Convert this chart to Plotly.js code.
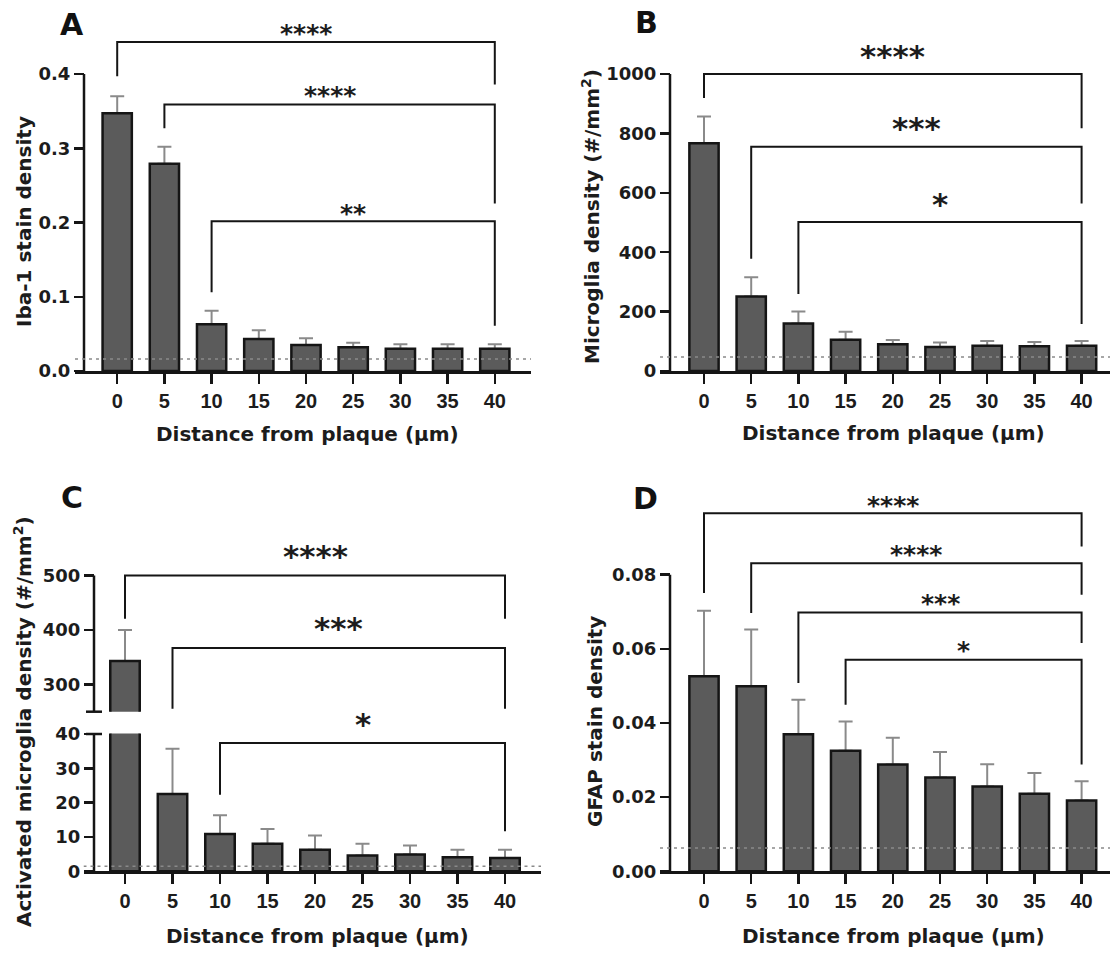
<!DOCTYPE html>
<html>
<head>
<meta charset="utf-8">
<script src="https://cdn.plot.ly/plotly-3.0.1.min.js"></script>
<style>
html,body{margin:0;padding:0;background:#ffffff;}
#chart{width:1110px;height:956px;}
</style>
</head>
<body>
<div id="chart"></div>
<script>
// ---------------- data ----------------
const distances = [0, 5, 10, 15, 20, 25, 30, 35, 40];

const ibaMean = [0.347, 0.279, 0.063, 0.043, 0.035, 0.032, 0.030, 0.030, 0.030];
const ibaSem  = [0.023, 0.023, 0.018, 0.012, 0.009, 0.006, 0.006, 0.006, 0.006];
const ibaBaseline = 0.016;

const microMean = [767, 251, 160, 105, 90, 81, 85, 83, 85];
const microSem  = [90, 65, 40, 27, 14, 15, 16, 15, 16];
const microBaseline = 47;

const actMean = [343, 22.5, 10.9, 8.0, 6.3, 4.6, 4.9, 4.1, 3.9];
const actSem  = [57, 13.2, 5.4, 4.3, 4.1, 3.4, 2.6, 2.2, 2.4];
const actBaseline = 1.5;

const gfapMean = [0.0526, 0.0499, 0.0370, 0.0325, 0.0288, 0.0253, 0.0229, 0.0209, 0.0191];
const gfapSem  = [0.0177, 0.0153, 0.0093, 0.0079, 0.0072, 0.0069, 0.0060, 0.0056, 0.0052];
const gfapBaseline = 0.0063;

// significance comparisons: [from distance, to distance, label]
const ibaSig   = [[0, 40, '****'], [5, 40, '****'], [10, 40, '**']];
const microSig = [[0, 40, '****'], [5, 40, '***'], [10, 40, '*']];
const actSig   = [[0, 40, '****'], [5, 40, '***'], [10, 40, '*']];
const gfapSig  = [[0, 40, '****'], [5, 40, '****'], [10, 40, '***'], [15, 40, '*']];

// tick labels
const ibaTicks = [0, 0.1, 0.2, 0.3, 0.4];
const ibaTickText = ['0.0', '0.1', '0.2', '0.3', '0.4'];
const microTicks = [0, 200, 400, 600, 800, 1000];
const actLowTicks = [0, 10, 20, 30, 40];
const actHighTicks = [300, 400, 500];
const gfapTicks = [0, 0.02, 0.04, 0.06, 0.08];
const gfapTickText = ['0.00', '0.02', '0.04', '0.06', '0.08'];

const xTitle = 'Distance from plaque (µm)';
const yTitles = ['Iba-1 stain density', 'Microglia density (#/mm<sup>2</sup>)',
                 'Activated microglia density (#/mm<sup>2</sup>)', 'GFAP stain density'];
const panelLetters = ['A', 'B', 'C', 'D'];

// ---------------- layout geometry (pixels) ----------------
const W = 1110, H = 956;
const FONT = 'DejaVu Sans, Verdana, Arial, sans-serif';
const XFONT = 'Liberation Sans, Arial, sans-serif';
const INK = '#1c1c1c';
const AX = '#151515';
const BAR_FILL = '#5b5b5b';
const ERR = '#8a8a8a';
const STEP = 5;
const BAR_W = 3.1;

const geo = {
  A:     {x0: 117.2, dx: 47.2, xl: 75,   xr: 531,  yax: 84,  y0: 371,   ppu: 742.5, top: 14,    base: 0},
  B:     {x0: 704,   dx: 47.2, xl: 660,  xr: 1110, yax: 670, y0: 371,   ppu: 0.297, top: 14,    base: 0},
  Clow:  {x0: 125,   dx: 47.5, xl: 83.5, xr: 541,  yax: 94,  y0: 871.3, ppu: 3.433, top: 733.5, base: 0},
  Chigh: {x0: 125,   dx: 47.5, xl: 83.5, xr: 541,  yax: 94,  y0: 711.7, ppu: 0.545, top: 556,   base: 250},
  D:     {x0: 704,   dx: 47.2, xl: 660,  xr: 1110, yax: 670, y0: 871.3, ppu: 3707,  top: 486,   base: 0}
};
// bracket heights: [bar, left leg end, right leg end, star centre]
const ibaBr   = [[0.443, 0.397, 0.386, 0.4555], [0.359, 0.327, 0.2255, 0.372], [0.2016, 0.106, 0.0609, 0.213]];
const microBr = [[1000, 919, 817, 1065], [755, 378, 564, 820], [502, 259, 158, 564]];
const actBr   = [[500, 420.5, 420.5, 536.7], [366.7, 255.4, 255.4, 405.2], [37.4, 22.3, 11.65, 43.2]];
const gfapBr  = [[0.0966, 0.0751, 0.0876, 0.0989], [0.0831, 0.0697, 0.0746, 0.0858],
                 [0.0698, 0.0508, 0.0616, 0.0726], [0.0571, 0.0449, 0.0288, 0.0598]];

function xRange(g) { return [distances[0] + (g.xl - g.x0) / g.dx * STEP, distances[0] + (g.xr - g.x0) / g.dx * STEP]; }
function yRange(g) { return [g.base, g.base + (g.y0 - g.top) / g.ppu]; }
function axisX(g) { return distances[0] + (g.yax - g.x0) / g.dx * STEP; }

function makeX(g, anchor) {
  return {type: 'linear', range: xRange(g), domain: [g.xl / W, Math.min(1, g.xr / W)], anchor: anchor,
    showline: true, linewidth: 2.5, linecolor: AX, ticks: 'outside', ticklen: 10, tickwidth: 2.5, tickcolor: AX,
    tickmode: 'array', tickvals: distances, ticktext: distances.map(String),
    tickfont: {family: XFONT, size: 20, color: INK, weight: 'bold'},
    showgrid: false, zeroline: false, fixedrange: true};
}
function makeY(g, vals, text) {
  return {type: 'linear', range: yRange(g), domain: [1 - g.y0 / H, 1 - g.top / H], anchor: 'free', position: g.yax / W,
    showline: false, zeroline: false, showgrid: false, ticks: 'outside', ticklen: 10, tickwidth: 2.5, tickcolor: AX,
    tickmode: 'array', tickvals: vals, ticktext: text || vals.map(String),
    tickfont: {family: FONT, size: 18, color: INK, weight: 'bold'}, fixedrange: true};
}

function barPair(mean, sem, xa, ya) {
  const err = {type: 'bar', x: distances, y: mean, xaxis: xa, yaxis: ya, width: BAR_W,
    marker: {color: 'rgba(0,0,0,0)', line: {width: 0}},
    error_y: {type: 'data', array: sem, arrayminus: sem.map(() => 0), symmetric: false, color: ERR, thickness: 2, width: 7},
    hoverinfo: 'skip', showlegend: false};
  const bars = {type: 'bar', x: distances, y: mean, xaxis: xa, yaxis: ya, width: BAR_W,
    marker: {color: BAR_FILL, line: {color: AX, width: 2.5}}, hoverinfo: 'skip', showlegend: false};
  return [err, bars];
}

const traces = [].concat(
  barPair(ibaMean, ibaSem, 'x', 'y'),
  barPair(microMean, microSem, 'x2', 'y2'),
  barPair(actMean, actSem, 'x3', 'y3'),
  barPair(actMean, actSem, 'x3', 'y4'),
  barPair(gfapMean, gfapSem, 'x4', 'y5')
);

const shapes = [];
const annotations = [];

function yAxisLine(g, xa, ya, y0, y1) {
  const xv = axisX(g);
  shapes.push({type: 'line', xref: xa, yref: ya, x0: xv, x1: xv, y0: y0, y1: y1, line: {color: AX, width: 2.5}});
}
function baseline(g, xa, ya, v) {
  const r = xRange(g);
  shapes.push({type: 'line', xref: xa, yref: ya, x0: r[0], x1: r[1], y0: v, y1: v,
    line: {color: '#8a8a8a', width: 1.5, dash: '3px,4px'}});
}
// stars are anchored on the bracket bar and lifted by a pixel offset
function bracket(s, b, xa, ya, ppu, starSize) {
  shapes.push({type: 'path', xref: xa, yref: ya,
    path: 'M' + s[0] + ',' + b[1] + ' L' + s[0] + ',' + b[0] + ' L' + s[1] + ',' + b[0] + ' L' + s[1] + ',' + b[2],
    line: {color: AX, width: 2}});
  annotations.push({xref: xa, yref: ya, x: (s[0] + s[1]) / 2, y: b[0], text: s[2], showarrow: false,
    xanchor: 'center', yanchor: 'middle', yshift: (b[3] - b[0]) * ppu - 1,
    font: {family: FONT, size: starSize, color: INK, weight: 'bold'}});
}

// Panel A
yAxisLine(geo.A, 'x', 'y', 0, 0.4);
baseline(geo.A, 'x', 'y', ibaBaseline);
ibaSig.forEach((s, i) => bracket(s, ibaBr[i], 'x', 'y', geo.A.ppu, 25));
// Panel B
yAxisLine(geo.B, 'x2', 'y2', 0, 1000);
baseline(geo.B, 'x2', 'y2', microBaseline);
microSig.forEach((s, i) => bracket(s, microBr[i], 'x2', 'y2', geo.B.ppu, 31));
// Panel C (broken axis)
yAxisLine(geo.Clow, 'x3', 'y3', 0, 40);
yAxisLine(geo.Chigh, 'x3', 'y4', 250, 500);
baseline(geo.Clow, 'x3', 'y3', actBaseline);
bracket(actSig[0], actBr[0], 'x3', 'y4', geo.Chigh.ppu, 31);
bracket(actSig[1], actBr[1], 'x3', 'y4', geo.Chigh.ppu, 31);
bracket(actSig[2], actBr[2], 'x3', 'y3', geo.Clow.ppu, 31);
[geo.Chigh.y0, 734].forEach(py => {
  shapes.push({type: 'line', xref: 'paper', yref: 'paper', x0: (geo.Clow.yax - 8) / W, x1: (geo.Clow.yax + 8) / W,
    y0: 1 - py / H, y1: 1 - py / H, line: {color: AX, width: 2.5}});
});
// Panel D
yAxisLine(geo.D, 'x4', 'y5', 0, 0.08);
baseline(geo.D, 'x4', 'y5', gfapBaseline);
gfapSig.forEach((s, i) => bracket(s, gfapBr[i], 'x4', 'y5', geo.D.ppu, 25));

// Titles & letters (paper pixel positions)
const letterPos = [[71.8, 25], [646.5, 22.5], [71.8, 497.5], [645.5, 498.5]];
const xTitlePos = [[307.6, 434], [893.7, 433], [317.4, 936], [893.7, 936]];
const yTitlePos = [[24, 222], [591, 217], [23, 722], [595, 722]];
panelLetters.forEach((L, i) => {
  annotations.push({xref: 'paper', yref: 'paper', x: letterPos[i][0] / W, y: 1 - letterPos[i][1] / H, text: L,
    showarrow: false, xanchor: 'center', yanchor: 'middle', font: {family: FONT, size: 30, color: '#111', weight: 'bold'}});
  annotations.push({xref: 'paper', yref: 'paper', x: xTitlePos[i][0] / W, y: 1 - xTitlePos[i][1] / H, text: xTitle,
    showarrow: false, xanchor: 'center', yanchor: 'middle', font: {family: FONT, size: 20, color: INK, weight: 'bold'}});
  annotations.push({xref: 'paper', yref: 'paper', x: yTitlePos[i][0] / W, y: 1 - yTitlePos[i][1] / H, text: yTitles[i],
    showarrow: false, textangle: -90, xanchor: 'center', yanchor: 'middle', font: {family: FONT, size: 20, color: INK, weight: 'bold'}});
});

const layout = {
  width: W, height: H, margin: {l: 0, r: 0, t: 0, b: 0},
  paper_bgcolor: '#ffffff', plot_bgcolor: 'rgba(0,0,0,0)',
  barmode: 'overlay', showlegend: false, font: {family: FONT, color: INK},
  xaxis: makeX(geo.A, 'y'), yaxis: makeY(geo.A, ibaTicks, ibaTickText),
  xaxis2: makeX(geo.B, 'y2'), yaxis2: makeY(geo.B, microTicks),
  xaxis3: makeX(geo.Clow, 'y3'), yaxis3: makeY(geo.Clow, actLowTicks), yaxis4: makeY(geo.Chigh, actHighTicks),
  xaxis4: makeX(geo.D, 'y5'), yaxis5: makeY(geo.D, gfapTicks, gfapTickText),
  shapes: shapes, annotations: annotations
};

Plotly.newPlot('chart', traces, layout, {displayModeBar: false, staticPlot: true});
</script>
</body>
</html>
